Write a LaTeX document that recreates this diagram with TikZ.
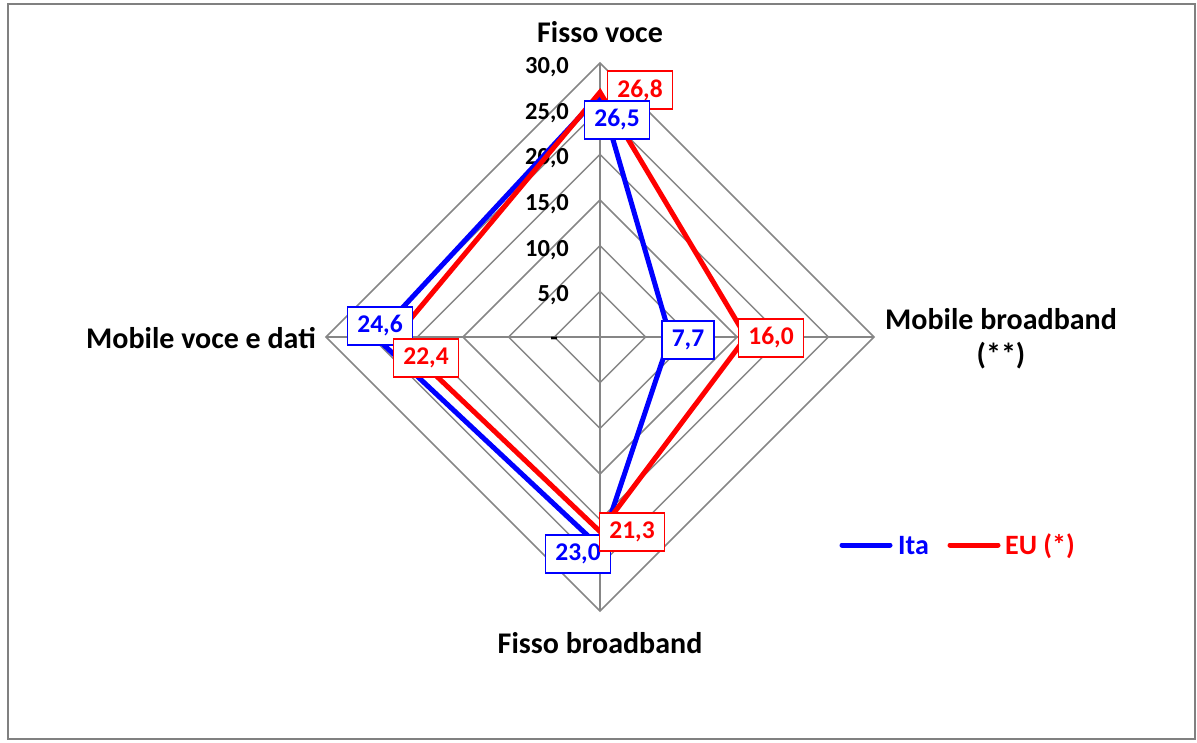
\documentclass[tikz,border=0pt]{standalone}
\usepackage{fontspec}
\setmainfont{Carlito}
\usetikzlibrary{calc}
\definecolor{gridgray}{RGB}{134,134,134}
\definecolor{framegray}{RGB}{128,128,128}
\definecolor{ita}{RGB}{0,0,255}
\definecolor{eu}{RGB}{255,0,0}
\tikzset{
  axistitle/.style={font=\bfseries\fontsize{30}{35}\selectfont, align=center, inner sep=0pt},
  ticklabel/.style={font=\bfseries\fontsize{24.5}{28}\selectfont, anchor=east, inner sep=0pt},
  gridline/.style={draw=gridgray, line width=1.5pt},
  series/.style={line width=5pt, miter limit=20},
  vallabel/.style={font=\bfseries\fontsize{25.5}{29}\selectfont, fill=white, line width=1.6pt,
    inner xsep=10pt, inner ysep=0pt, minimum height=38pt},
  itabox/.style={vallabel, draw=ita, text=ita},
  eubox/.style={vallabel, draw=eu, text=eu},
  legendline/.style={line width=5pt, line cap=round},
  legendtext/.style={font=\bfseries\fontsize{28}{32}\selectfont, anchor=west, inner sep=0pt},
}
\begin{document}
\begin{tikzpicture}[x=1pt, y=-1pt]
\useasboundingbox (0,0) rectangle (1197,742);
% outer frame
\draw[framegray, line width=2pt] (8,4) rectangle (1195,739);

% radar centre and scale (30,0 = 274)
\coordinate (C) at (600,337);
\def\k{9.13333}

% grid diamonds
\foreach \v in {5,10,...,30} {
  \draw[gridline] ($(C)+(0,-\v*\k)$) -- ($(C)+(\v*\k,0)$) -- ($(C)+(0,\v*\k)$) -- ($(C)+(-\v*\k,0)$) -- cycle;
}
% spokes
\coordinate (Ntop) at (600,63);
\coordinate (Nright) at (874,337);
\coordinate (Nbottom) at (600,611);
\coordinate (Nleft) at (326,337);
\draw[gridline] (C) -- (Ntop);
\draw[gridline] (C) -- (Nright);
\draw[gridline] (C) -- (Nbottom);
\draw[gridline] (C) -- (Nleft);

% scale labels
\foreach \v/\t in {5/{5,0},10/{10,0},15/{15,0},20/{20,0},25/{25,0},30/{30,0}} {
  \node[ticklabel] (tick\v) at (569, 341-\v*\k) {\t};
}
\node[ticklabel] (tick0) at (558,341) {-};

% axis titles
\node[axistitle] (tFV) at (600,32) {Fisso voce};
\node[axistitle] (tMB) at (1001,339) {Mobile broadband\\(**)};
\node[axistitle] (tFB) at (600,643) {Fisso broadband};
\node[axistitle] (tMV) at (201,338) {Mobile voce e dati};

% series vertices
\coordinate (i1) at (600,94.97);
\coordinate (i2) at (670.33,337);
\coordinate (i3) at (600,547.07);
\coordinate (i4) at (375.33,337);
\coordinate (e1) at (600,92.23);
\coordinate (e2) at (746.13,337);
\coordinate (e3) at (600,531.53);
\coordinate (e4) at (395.41,337);

\draw[series, ita] (i1) -- (i2) -- (i3) -- (i4) -- cycle;
\draw[series, eu] (e1) -- (e2) -- (e3) -- (e4) -- cycle;

% value labels
\node[eubox] (le1) at (640,90) {26,8};
\node[itabox] (li1) at (617,120) {26,5};
\node[itabox] (li2) at (688,340) {7,7};
\node[itabox] (li4) at (380,326) {24,6};
\node[itabox] (li3) at (578,554) {23,0};
\node[eubox] (le2) at (771,338) {16,0};
\node[eubox] (le4) at (426,358) {22,4};
\node[eubox] (le3) at (632,532) {21,3};

% legend
\coordinate (lgA1) at (842,545);
\coordinate (lgA2) at (890,545);
\coordinate (lgB1) at (950,545);
\coordinate (lgB2) at (998,545);
\draw[legendline, ita] (lgA1) -- (lgA2);
\node[legendtext, text=ita] (lgIta) at (898,546) {Ita};
\draw[legendline, eu] (lgB1) -- (lgB2);
\node[legendtext, text=eu] (lgEU) at (1005,546) {EU (*)};
\end{tikzpicture}
\end{document}
